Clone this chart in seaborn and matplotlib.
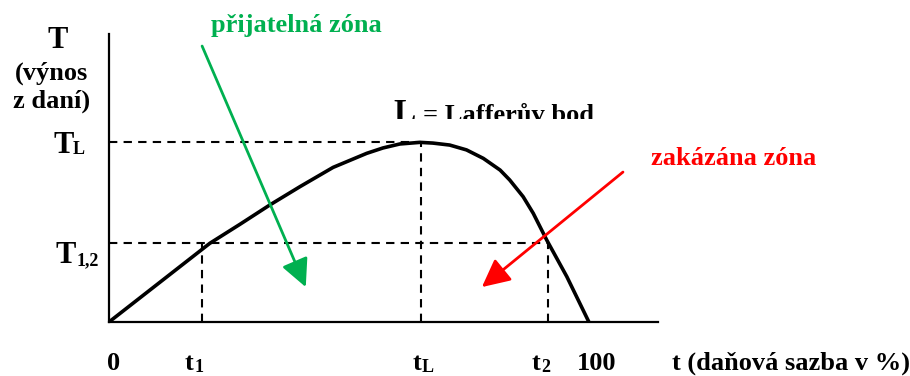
import matplotlib
matplotlib.use("Agg")
import matplotlib.pyplot as plt
import seaborn as sns
import pandas as pd
from matplotlib.transforms import Bbox, TransformedBbox

# Laffer curve (t = tax rate in %, T = revenue, T_L = 100)
t_curve = [0, 21.0, 27.3, 33.5, 39.8, 46.7, 53.7, 57.1, 60.6, 64.8, 67.5, 71.0,
           74.5, 78.0, 81.5, 83.5, 86.3, 88.4, 91.2, 95.4, 100]
T_curve = [0, 43.7, 54.3, 65.0, 75.2, 85.9, 93.7, 96.7, 98.9, 99.8, 99.4, 98.3,
           95.6, 90.9, 84.4, 78.9, 69.6, 60.4, 45.6, 25.2, 0]

t_1 = 19.4
t_L = 65.0
t_2 = 91.5
T_L = 100
T_12 = 44

green = "#00B050"
red = "#FF0000"
W, H = 910, 376

sns.set_theme(style="white")
plt.rcParams['font.family'] = ['Liberation Serif', 'DejaVu Serif']
plt.rcParams['font.weight'] = 'bold'
plt.rcParams['text.color'] = 'black'

fig = plt.figure(figsize=(W / 100, H / 100), dpi=100)
ax = fig.add_axes([109 / W, (H - 322) / H, (658 - 109) / W, (322 - 34) / H])
ax.set_xlim(0, 114.4)
ax.set_ylim(0, 160)
ax.set_xticks([])
ax.set_yticks([])
for s in ['top', 'right']:
    ax.spines[s].set_visible(False)
for s in ['left', 'bottom']:
    ax.spines[s].set_color('black')
    ax.spines[s].set_linewidth(1.6)

df = pd.DataFrame({'t': t_curve, 'T': T_curve})
sns.lineplot(data=df, x='t', y='T', ax=ax, color='black', lw=2.6, sort=False,
             solid_joinstyle='round', solid_capstyle='round')
ax.set_xlabel('')
ax.set_ylabel('')

dash = dict(color='black', lw=1.5, linestyles=(0, (4, 3)))
ax.hlines(T_L, 0, t_L, **dash)
ax.vlines(t_L, 0, T_L, **dash)
ax.hlines(T_12, 0, t_2, **dash)
ax.vlines([t_1, t_2], 0, T_12, **dash)

arrow = '-|>,head_length=0.85,head_width=0.42'
ax.annotate('', xy=(41, 19.4), xytext=(19.4, 153.3),
            arrowprops=dict(arrowstyle=arrow, color=green, lw=2, mutation_scale=20,
                            shrinkA=0, shrinkB=0), annotation_clip=False)
ax.annotate('', xy=(77.7, 19.4), xytext=(107.1, 83.3),
            arrowprops=dict(arrowstyle=arrow, color=red, lw=2, mutation_scale=20,
                            shrinkA=0, shrinkB=0), annotation_clip=False)


def label(x, y, s, size=19, ha='left', color='black', **kw):
    return fig.text(x / W, 1 - y / H, s, fontsize=size, ha=ha, va='baseline',
                    fontweight='bold', color=color, **kw)


# axis titles
label(58, 48, 'T', size=22, ha='center')
label(52, 80, '(výnos', ha='center')
label(52, 108, 'z daní)', ha='center')
label(672, 370, 't (daňová sazba v %)')

# y-axis marks
label(53, 153, 'T', size=22)
label(73, 154, 'L', size=13)
label(56, 263, 'T', size=22)
label(77, 265, '1,2', size=13)

# x-axis marks
label(114, 370, '0', ha='center')
label(185, 370, 't')
label(195, 372, '1', size=13)
label(413, 370, 't')
label(422, 372, 'L', size=13)
label(532, 370, 't')
label(541, 372, '2', size=13)
label(597, 370, '100', ha='center')

# zones
label(296, 32, 'přijatelná zóna', color=green, ha='center')
label(734, 165, 'zakázána zóna', color=red, ha='center')

# Laffer point caption, cut off at the bottom as in the picture
clip = TransformedBbox(Bbox([[0, 1 - 119 / H], [1, 1]]), fig.transFigure)
for txt in (label(393, 122, 'L', size=24), label(423, 122, '= Lafferův bod')):
    txt.set_clip_box(clip)
    txt.set_clip_on(True)

fig.savefig('out.png', dpi=100)
